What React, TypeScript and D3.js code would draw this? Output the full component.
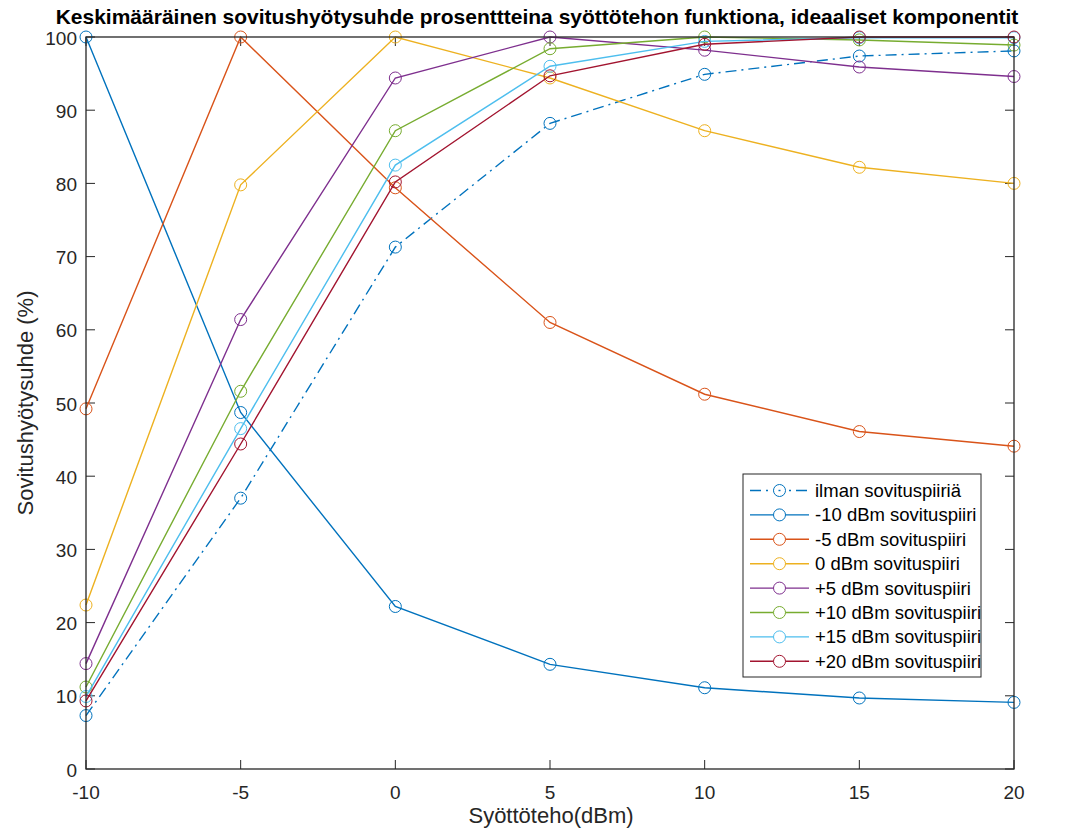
import React, { useEffect, useRef } from "react";
import * as d3 from "d3";

// syöttöteho (dBm)
const inputPower = [-10, -5, 0, 5, 10, 15, 20];

const seriesNames = [
  "ilman sovituspiiriä",
  "-10 dBm sovituspiiri",
  "-5 dBm sovituspiiri",
  "0 dBm sovituspiiri",
  "+5 dBm sovituspiiri",
  "+10 dBm sovituspiiri",
  "+15 dBm sovituspiiri",
  "+20 dBm sovituspiiri",
];

const noMatch = [7.3, 37.0, 71.3, 88.2, 94.9, 97.4, 98.1];
const match_m10 = [100, 48.7, 22.2, 14.3, 11.1, 9.7, 9.1];
const match_m5 = [49.2, 100, 79.4, 61.0, 51.2, 46.1, 44.1];
const match_0 = [22.4, 79.8, 100, 94.4, 87.2, 82.2, 80.0];
const match_5 = [14.4, 61.4, 94.4, 100, 98.2, 95.9, 94.6];
const match_10 = [11.2, 51.6, 87.2, 98.4, 100, 99.6, 98.9];
const match_15 = [9.9, 46.5, 82.5, 96.0, 99.4, 99.9, 99.9];
const match_20 = [9.3, 44.4, 80.2, 94.7, 99.0, 100, 100];

const seriesValues = [noMatch, match_m10, match_m5, match_0, match_5, match_10, match_15, match_20];
const seriesColors = ["#0072BD", "#0072BD", "#D95319", "#EDB120", "#7E2F8E", "#77AC30", "#4DBEEE", "#A2142F"];
const seriesDash = ["11,5,2,5", null, null, null, null, null, null, null];

const xTicks = [-10, -5, 0, 5, 10, 15, 20];
const yTicks = [0, 10, 20, 30, 40, 50, 60, 70, 80, 90, 100];

const font = "'Liberation Sans', Arial, sans-serif";
const axisColor = "#262626";

export default function App() {
  const ref = useRef<SVGSVGElement>(null);

  useEffect(() => {
    const svg = d3.select(ref.current);
    svg.selectAll("*").remove();

    const left = 86, right = 1014, top = 37, bottom = 769;
    const x = d3.scaleLinear().domain([-10, 20]).range([left, right]);
    const y = d3.scaleLinear().domain([0, 100]).range([bottom, top]);

    svg.append("rect").attr("width", 1072).attr("height", 834).attr("fill", "white");

    const g = svg.append("g");

    // ticks (inward, box on)
    const tickLen = 9;
    xTicks.forEach(t => {
      g.append("line").attr("x1", x(t)).attr("x2", x(t)).attr("y1", bottom).attr("y2", bottom - tickLen)
        .attr("stroke", axisColor).attr("stroke-width", 1);
      g.append("line").attr("x1", x(t)).attr("x2", x(t)).attr("y1", top).attr("y2", top + tickLen)
        .attr("stroke", axisColor).attr("stroke-width", 1);
      g.append("text").attr("x", x(t)).attr("y", bottom + 30).attr("text-anchor", "middle")
        .attr("font-family", font).attr("font-size", 19).attr("fill", axisColor).text(String(t));
    });
    yTicks.forEach(t => {
      g.append("line").attr("x1", left).attr("x2", left + tickLen).attr("y1", y(t)).attr("y2", y(t))
        .attr("stroke", axisColor).attr("stroke-width", 1);
      g.append("line").attr("x1", right).attr("x2", right - tickLen).attr("y1", y(t)).attr("y2", y(t))
        .attr("stroke", axisColor).attr("stroke-width", 1);
      g.append("text").attr("x", left - 9).attr("y", y(t) + 7.5).attr("text-anchor", "end")
        .attr("font-family", font).attr("font-size", 19).attr("fill", axisColor).text(String(t));
    });

    // lines
    const line = d3.line<number>().x((d, i) => x(inputPower[i])).y(d => y(d));
    seriesValues.forEach((vals, si) => {
      const s = g.append("g");
      s.append("path").datum(vals).attr("d", line).attr("fill", "none")
        .attr("stroke", seriesColors[si]).attr("stroke-width", 1.4)
        .attr("stroke-dasharray", seriesDash[si]);
      s.selectAll("circle").data(vals).join("circle")
        .attr("cx", (d, i) => x(inputPower[i])).attr("cy", d => y(d)).attr("r", 6)
        .attr("fill", "none").attr("stroke", seriesColors[si]).attr("stroke-width", 1);
    });

    // box
    g.append("rect").attr("x", left).attr("y", top).attr("width", right - left).attr("height", bottom - top)
      .attr("fill", "none").attr("stroke", axisColor).attr("stroke-width", 1.3);

    // title & labels
    svg.append("text").attr("x", 537).attr("y", 24).attr("text-anchor", "middle")
      .attr("font-family", font).attr("font-size", 21).attr("font-weight", "bold").attr("fill", "#000")
      .text("Keskimääräinen sovitushyötysuhde prosenttteina syöttötehon funktiona, ideaaliset komponentit");
    svg.append("text").attr("x", 551).attr("y", 823).attr("text-anchor", "middle")
      .attr("font-family", font).attr("font-size", 22).attr("fill", axisColor).text("Syöttöteho(dBm)");
    svg.append("text").attr("transform", `translate(33, ${(top + bottom) / 2}) rotate(-90)`)
      .attr("text-anchor", "middle").attr("font-family", font).attr("font-size", 22).attr("fill", axisColor)
      .text("Sovitushyötysuhde (%)");

    // legend
    const lg = svg.append("g");
    lg.append("rect").attr("x", 743).attr("y", 474).attr("width", 238).attr("height", 203)
      .attr("fill", "white").attr("stroke", axisColor).attr("stroke-width", 1);
    seriesNames.forEach((name, i) => {
      const ly = 490.5 + i * 24.4;
      lg.append("line").attr("x1", 750).attr("x2", 809).attr("y1", ly).attr("y2", ly)
        .attr("stroke", seriesColors[i]).attr("stroke-width", 1.4)
        .attr("stroke-dasharray", i === 0 ? "11,5,2,5" : null);
      lg.append("circle").attr("cx", 779.5).attr("cy", ly).attr("r", 6)
        .attr("fill", "white").attr("stroke", seriesColors[i]).attr("stroke-width", 1);
      if (i === 0) {
        lg.append("line").attr("x1", 778.5).attr("x2", 780.5).attr("y1", ly).attr("y2", ly)
          .attr("stroke", seriesColors[i]).attr("stroke-width", 1.4);
      }
      lg.append("text").attr("x", 815).attr("y", ly + 6.5).attr("font-family", font).attr("font-size", 18.5)
        .attr("fill", "#000").text(name);
    });
  }, []);

  return (
    <svg ref={ref} width={1072} height={834}
      style={{ display: "block", position: "absolute", left: 0, top: 0 }} />
  );
}
